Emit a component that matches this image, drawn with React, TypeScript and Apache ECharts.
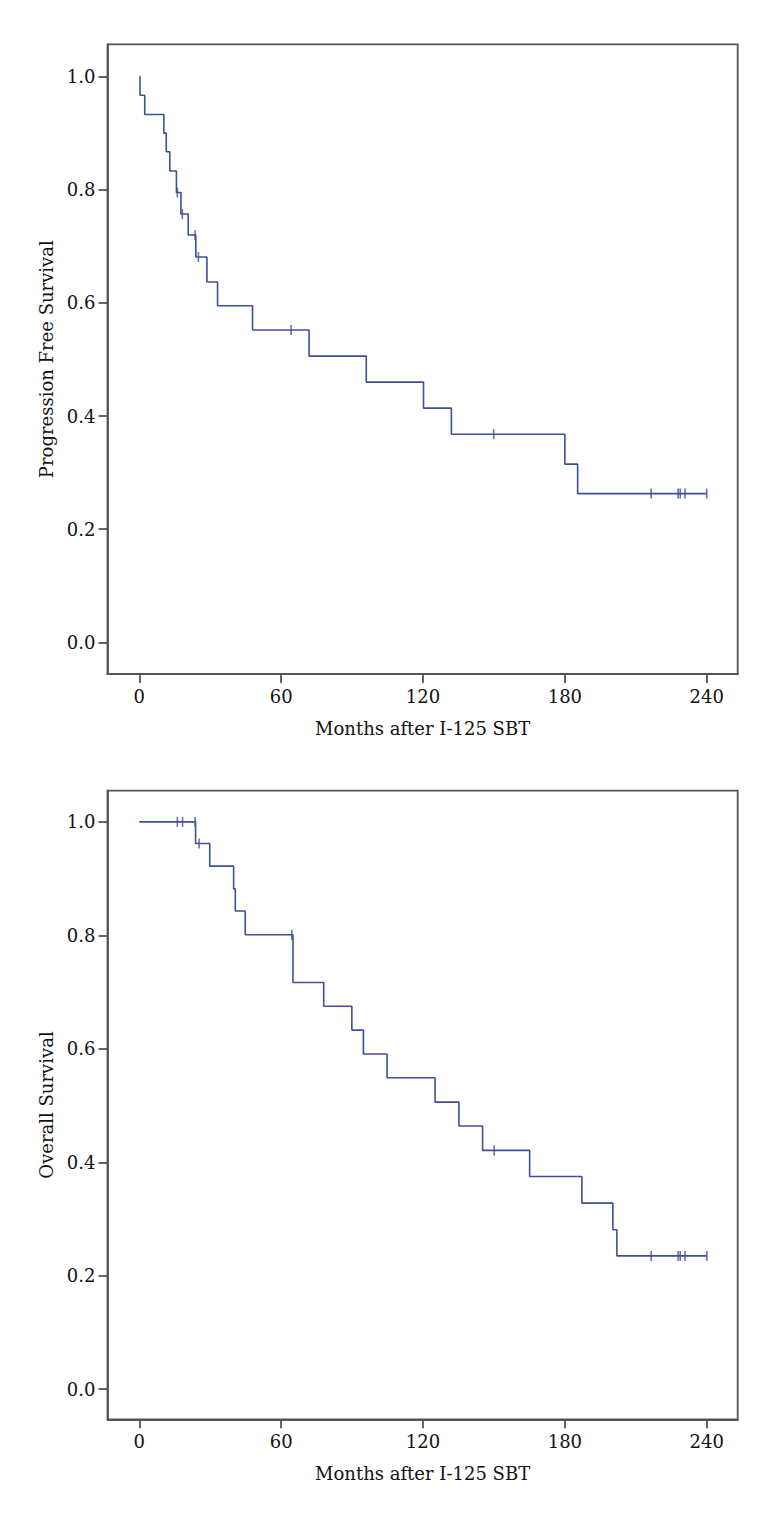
import React, { useEffect, useRef } from "react";
import * as echarts from "echarts";

// Progression free survival (Kaplan-Meier steps)
const pfsMonths = [0, 0.3, 2.3, 10.4, 11.4, 12.9, 15.7, 17.6, 20.7, 23.9, 28.6, 33.1, 47.9, 71.8, 96, 120.2, 132, 180, 185.4, 240];
const pfsSurvival = [1.0, 0.967, 0.933, 0.9, 0.867, 0.833, 0.795, 0.757, 0.72, 0.681, 0.637, 0.595, 0.552, 0.506, 0.46, 0.414, 0.368, 0.315, 0.263, 0.263];
const pfsCensorMonths = [16.1, 18.2, 23.6, 25.0, 64.2, 149.9, 216.5, 227.9, 228.8, 230.8, 240];
const pfsCensorSurvival = [0.795, 0.757, 0.72, 0.681, 0.552, 0.368, 0.263, 0.263, 0.263, 0.263, 0.263];

// Overall survival (Kaplan-Meier steps)
const osMonths = [0, 23.8, 29.8, 39.9, 40.6, 44.8, 65.0, 78.0, 89.9, 94.8, 104.8, 125.1, 135.2, 145.2, 165.1, 187.2, 200.3, 202.0, 240];
const osSurvival = [1.0, 0.962, 0.922, 0.882, 0.843, 0.801, 0.717, 0.675, 0.633, 0.591, 0.549, 0.506, 0.464, 0.421, 0.375, 0.328, 0.281, 0.235, 0.235];
const osCensorMonths = [16.1, 18.3, 23.6, 25.3, 64.5, 150.1, 216.5, 227.9, 228.8, 230.8, 240];
const osCensorSurvival = [1.0, 1.0, 1.0, 0.962, 0.801, 0.421, 0.235, 0.235, 0.235, 0.235, 0.235];

const xTicks = [0, 60, 120, 180, 240];
const yTicks = [0, 0.2, 0.4, 0.6, 0.8, 1.0];
const xTitle = "Months after I-125 SBT";
const yTitles = ["Progression Free Survival", "Overall Survival"];

const LINE = "#3f4f98";
const FRAME = "#555555";
const FONT = "DejaVu Serif";
const FS = 18;

export default function App() {
  const ref = useRef<HTMLDivElement>(null);
  useEffect(() => {
    if (!ref.current) return;
    const chart = echarts.init(ref.current, null, { renderer: "svg" });
    const zip = (a: number[], b: number[]) => a.map((v, i) => [v, b[i]]);
    const makeX = (gi: number) => ({
      type: "value",
      gridIndex: gi,
      min: -13.45,
      max: 253.1,
      name: xTitle,
      nameLocation: "middle",
      nameGap: 45,
      nameTextStyle: { fontFamily: FONT, fontSize: FS, color: "#111" },
      splitLine: { show: false },
      axisLine: { show: true, onZero: false, lineStyle: { color: FRAME, width: 1.8 } },
      axisTick: { show: true, length: 9, customValues: xTicks, lineStyle: { color: FRAME, width: 1.8 } },
      axisLabel: { customValues: xTicks, margin: 13, fontFamily: FONT, fontSize: FS, color: "#111" },
    });
    const makeY = (gi: number, min: number, max: number) => ({
      type: "value",
      gridIndex: gi,
      min,
      max,
      name: yTitles[gi],
      nameLocation: "middle",
      nameGap: 48,
      nameTextStyle: { fontFamily: FONT, fontSize: FS, color: "#111" },
      splitLine: { show: false },
      axisLine: { show: true, onZero: false, lineStyle: { color: FRAME, width: 1.8 } },
      axisTick: { show: true, length: 9, customValues: yTicks, lineStyle: { color: FRAME, width: 1.8 } },
      axisLabel: {
        customValues: yTicks,
        margin: 12,
        fontFamily: FONT,
        fontSize: FS,
        color: "#111",
        formatter: (v: number) => v.toFixed(1),
      },
    });
    const stepSeries = (gi: number, xs: number[], ys: number[]) => ({
      type: "line",
      xAxisIndex: gi,
      yAxisIndex: gi,
      step: "end",
      showSymbol: false,
      data: zip(xs, ys),
      lineStyle: { color: LINE, width: 1.6 },
      itemStyle: { color: LINE },
    });
    const censorSeries = (gi: number, xs: number[], ys: number[]) => ({
      type: "scatter",
      xAxisIndex: gi,
      yAxisIndex: gi,
      symbol: "rect",
      symbolSize: [1.6, 10],
      data: zip(xs, ys),
      itemStyle: { color: LINE },
    });
    chart.setOption({
      animation: false,
      backgroundColor: "#ffffff",
      grid: [
        { left: 107.5, top: 44.3, width: 630.2, height: 629.8, show: true, borderColor: FRAME, borderWidth: 1.8, containLabel: false },
        { left: 107.5, top: 790.7, width: 630.2, height: 628.6, show: true, borderColor: FRAME, borderWidth: 1.8, containLabel: false },
      ],
      xAxis: [makeX(0), makeX(1)],
      yAxis: [makeY(0, -0.056, 1.057), makeY(1, -0.053, 1.055)],
      series: [
        stepSeries(0, pfsMonths, pfsSurvival),
        censorSeries(0, pfsCensorMonths, pfsCensorSurvival),
        stepSeries(1, osMonths, osSurvival),
        censorSeries(1, osCensorMonths, osCensorSurvival),
      ],
    });
    return () => chart.dispose();
  }, []);
  return (
    <div
      ref={ref}
      style={{ position: "absolute", left: 0, top: 0, width: 780, height: 1533, background: "#fff" }}
    />
  );
}
